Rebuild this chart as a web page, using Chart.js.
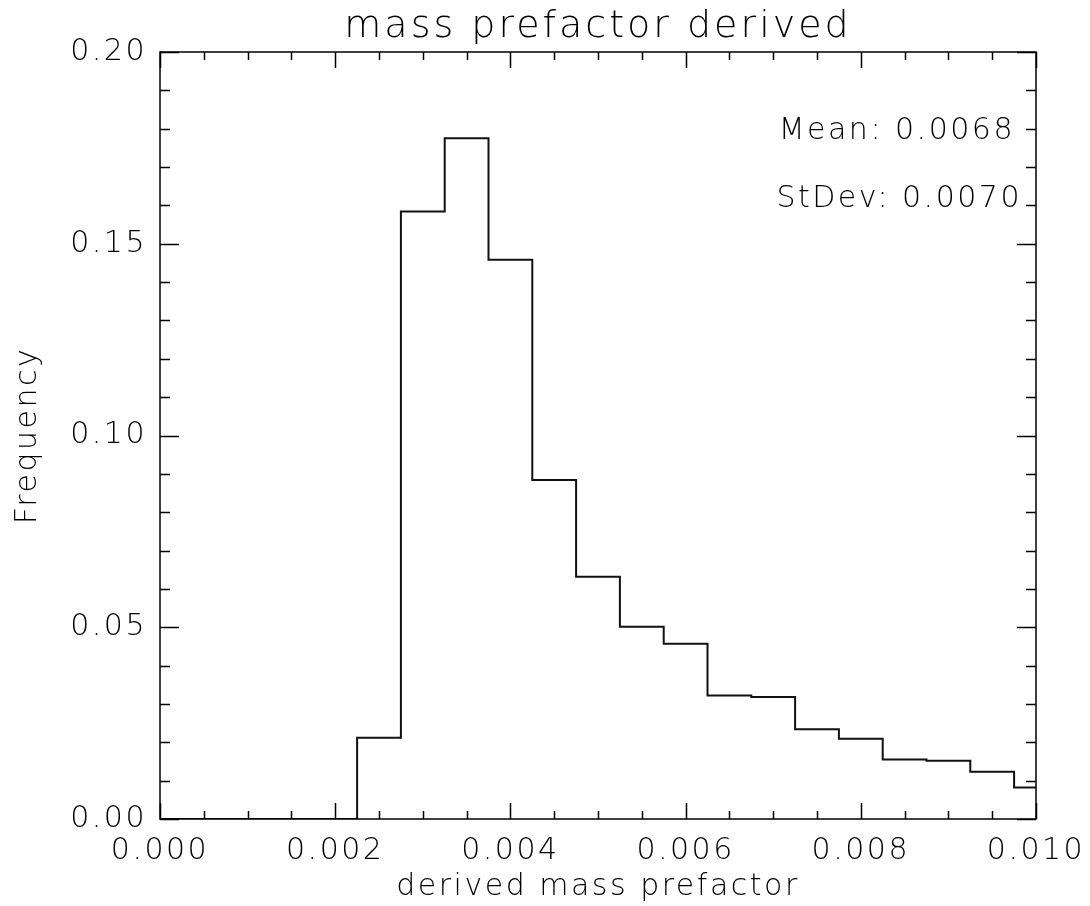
<!DOCTYPE html>
<html>
<head>
<meta charset="utf-8">
<script src="https://cdn.jsdelivr.net/npm/chart.js@4.4.0/dist/chart.umd.min.js"></script>
<style>
  html, body { margin: 0; padding: 0; background: #ffffff; }
  #wrap { width: 1090px; height: 906px; }
</style>
</head>
<body>
<div id="wrap"><canvas id="c" width="1090" height="906"></canvas></div>
<script>
// Histogram bins (centres) and normalised frequency per bin
const binCenters = [0.0000, 0.0005, 0.0010, 0.0015, 0.0020, 0.0025, 0.0030, 0.0035, 0.0040, 0.0045,
                    0.0050, 0.0055, 0.0060, 0.0065, 0.0070, 0.0075, 0.0080, 0.0085, 0.0090, 0.0095, 0.0100];
const frequency  = [0, 0, 0, 0, 0, 0.0212, 0.1584, 0.1775, 0.1458, 0.0884,
                    0.0632, 0.0501, 0.0457, 0.0322, 0.0318, 0.0234, 0.0209, 0.0155, 0.0152, 0.0123, 0.0082];
const binWidth = 0.0005;

// Axis ticks
const xTicks = [0.000, 0.002, 0.004, 0.006, 0.008, 0.010];
const yTicks = [0.00, 0.05, 0.10, 0.15, 0.20];
const xMinorStep = 0.0005;
const yMinorStep = 0.01;

// Summary statistics
const meanValue = 0.0068;
const stdevValue = 0.0070;

const titleText = 'mass prefactor derived';
const xTitleText = 'derived mass prefactor';
const yTitleText = 'Frequency';

const FONT = '"DejaVu Sans", sans-serif';
const WEIGHT = '200';
const SPACING = '2.5px';

// Stepped outline: each bin's left edge carries its height; the final point closes the last bin
const stepPoints = [];
binCenters.forEach((c, i) => {
  stepPoints.push({ x: c - binWidth / 2, y: frequency[i] });
});
stepPoints.push({ x: binCenters[binCenters.length - 1] + binWidth / 2, y: frequency[frequency.length - 1] });

const spacingPlugin = {
  id: 'spacing',
  beforeLayout(chart) { chart.ctx.letterSpacing = SPACING; },
  beforeDraw(chart) { chart.ctx.letterSpacing = SPACING; }
};

// Box frame with inward major/minor ticks on all four sides, plus title and stats text
const framePlugin = {
  id: 'frame',
  afterDatasetsDraw(chart) {
    const { ctx, chartArea: a, scales: { x, y } } = chart;
    ctx.save();
    ctx.strokeStyle = '#000';
    ctx.lineWidth = 1.5;
    ctx.strokeRect(a.left, a.top, a.right - a.left, a.bottom - a.top);
    ctx.beginPath();
    const nx = Math.round((x.max - x.min) / xMinorStep);
    for (let k = 0; k <= nx; k++) {
      const v = x.min + k * xMinorStep;
      const px = Math.round(x.getPixelForValue(v)) + 0.5;
      const major = xTicks.some(t => Math.abs(t - v) < 1e-9);
      const len = major ? 16 : 8;
      ctx.moveTo(px, a.bottom); ctx.lineTo(px, a.bottom - len);
      ctx.moveTo(px, a.top); ctx.lineTo(px, a.top + len);
    }
    const ny = Math.round((y.max - y.min) / yMinorStep);
    for (let k = 0; k <= ny; k++) {
      const v = y.min + k * yMinorStep;
      const py = Math.round(y.getPixelForValue(v)) + 0.5;
      const major = yTicks.some(t => Math.abs(t - v) < 1e-9);
      const len = major ? 19 : 10;
      ctx.moveTo(a.left, py); ctx.lineTo(a.left + len, py);
      ctx.moveTo(a.right, py); ctx.lineTo(a.right - len, py);
    }
    ctx.stroke();
    ctx.restore();
  },
  afterDraw(chart) {
    const { ctx, chartArea: a } = chart;
    ctx.save();
    ctx.letterSpacing = '3px';
    ctx.fillStyle = '#000';
    ctx.font = WEIGHT + ' 38px ' + FONT;
    ctx.textAlign = 'center';
    ctx.textBaseline = 'alphabetic';
    ctx.fillText(titleText, (a.left + a.right) / 2, 37);
    ctx.letterSpacing = SPACING;
    ctx.font = WEIGHT + ' 30px ' + FONT;
    ctx.textAlign = 'right';
    ctx.fillText('Mean: ' + meanValue.toFixed(4), a.right - 21, 139);
    ctx.fillText('StDev: ' + stdevValue.toFixed(4), a.right - 14, 207);
    ctx.restore();
  }
};

new Chart(document.getElementById('c'), {
  type: 'line',
  data: {
    datasets: [{
      data: stepPoints,
      stepped: 'before',
      borderColor: '#111',
      borderWidth: 2,
      pointRadius: 0,
      fill: false
    }]
  },
  options: {
    responsive: false,
    animation: false,
    devicePixelRatio: 1,
    layout: { padding: { left: 0, right: 54, top: 52, bottom: 0 } },
    plugins: { legend: { display: false }, tooltip: { enabled: false }, title: { display: false } },
    scales: {
      x: {
        type: 'linear',
        min: 0,
        max: 0.010,
        afterBuildTicks(scale) { scale.ticks = xTicks.map(v => ({ value: v })); },
        afterFit(scale) { scale.height = 87; scale.paddingLeft = 0; scale.paddingRight = 0; },
        grid: { display: false, drawTicks: false },
        border: { display: false },
        ticks: {
          color: '#000',
          font: { family: FONT, size: 30, weight: WEIGHT },
          padding: 14,
          maxRotation: 0,
          callback: v => Number(v).toFixed(3)
        },
        title: {
          display: true,
          text: xTitleText,
          color: '#000',
          font: { family: FONT, size: 30, weight: WEIGHT },
          padding: { top: 0, bottom: 1 }
        }
      },
      y: {
        type: 'linear',
        min: 0,
        max: 0.20,
        afterBuildTicks(scale) { scale.ticks = yTicks.map(v => ({ value: v })); },
        afterFit(scale) { scale.width = 160; scale.paddingTop = 0; scale.paddingBottom = 0; },
        grid: { display: false, drawTicks: false },
        border: { display: false },
        ticks: {
          color: '#000',
          font: { family: FONT, size: 30, weight: WEIGHT },
          padding: 13,
          callback: v => Number(v).toFixed(2)
        },
        title: {
          display: true,
          text: yTitleText,
          color: '#000',
          font: { family: FONT, size: 30, weight: WEIGHT },
          padding: { top: 10, bottom: 0 }
        }
      }
    }
  },
  plugins: [spacingPlugin, framePlugin]
});
</script>
</body>
</html>
